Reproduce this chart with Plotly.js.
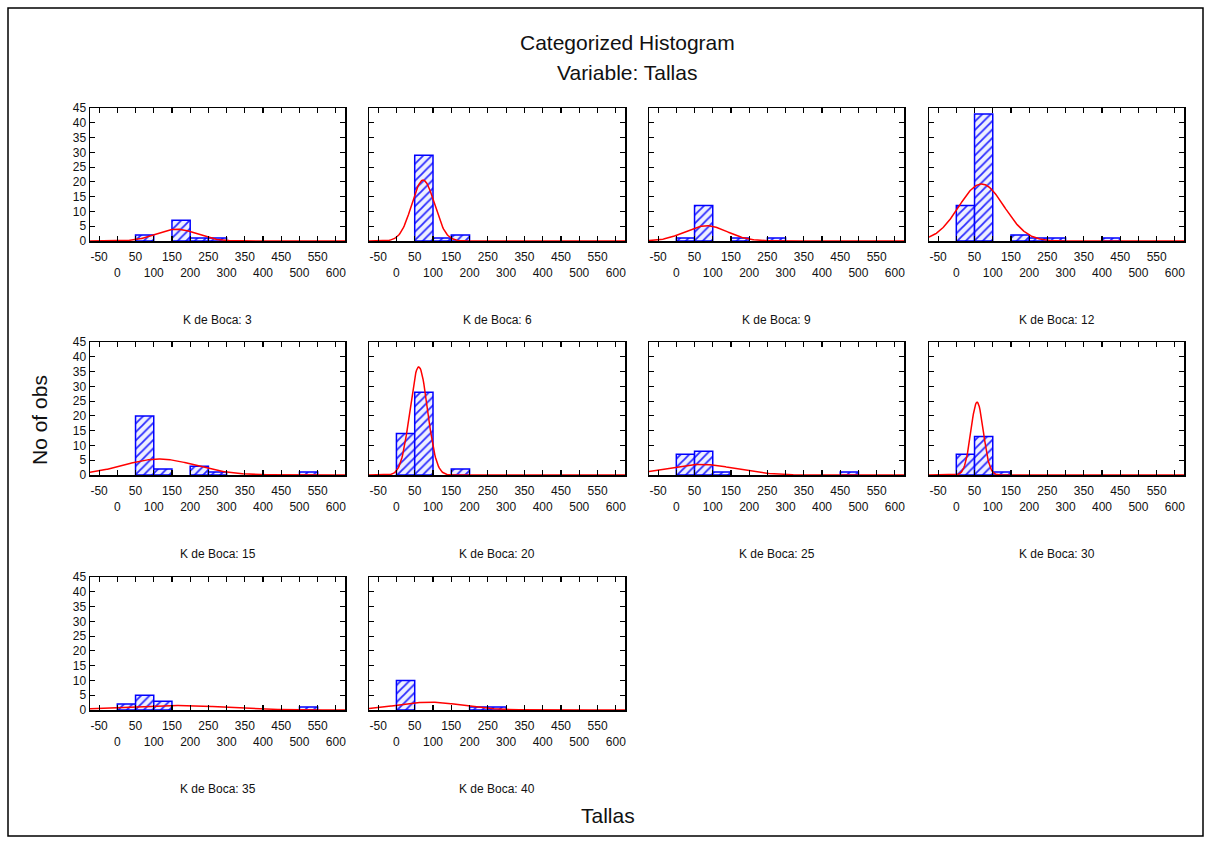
<!DOCTYPE html>
<html><head><meta charset="utf-8">
<script src="https://cdn.plot.ly/plotly-3.0.1.min.js"></script>
<style>html,body{margin:0;padding:0;background:#fff}#chart{width:1211px;height:844px}</style>
</head><body><div id="chart"></div>
<script>
// ---- data ----
const panelLabels = ["K de Boca: 3","K de Boca: 6","K de Boca: 9","K de Boca: 12","K de Boca: 15",
                     "K de Boca: 20","K de Boca: 25","K de Boca: 30","K de Boca: 35","K de Boca: 40"];
const binStarts = [0,50,100,150,200,250,300,350,400,450,500,550];
const countsK3  = [0,2,0,7,1,1,0,0,0,0,0,0];
const countsK6  = [0,29,1,2,0,0,0,0,0,0,0,0];
const countsK9  = [1,12,0,1,0,1,0,0,0,0,0,0];
const countsK12 = [12,43,0,2,1,1,0,0,1,0,0,0];
const countsK15 = [0,20,2,0,3,1,0,0,0,0,1,0];
const countsK20 = [14,28,0,2,0,0,0,0,0,0,0,0];
const countsK25 = [7,8,1,0,0,0,0,0,0,1,0,0];
const countsK30 = [7,13,1,0,0,0,0,0,0,0,0,0];
const countsK35 = [2,5,3,0,0,0,0,0,0,0,1,0];
const countsK40 = [10,0,0,0,1,1,0,0,0,0,0,0];
// fitted normal curve parameters (mean, sd) estimated from the red curves
const fitMean = [163, 73, 82, 69, 115, 61, 68, 57, 150, 90];
const fitSd   = [ 55, 31, 58, 62, 100, 24, 95, 17, 140, 90];
const xTickVals = [-50,0,50,100,150,200,250,300,350,400,450,500,550,600];
const xTickLabels = ["-50","0","50","100","150","200","250","300","350","400","450","500","550","600"];
const yTickVals = [0,5,10,15,20,25,30,35,40,45];
const yTickLabels = ["0","5","10","15","20","25","30","35","40","45"];

const allCounts = [countsK3,countsK6,countsK9,countsK12,countsK15,countsK20,countsK25,countsK30,countsK35,countsK40];

// ---- layout geometry ----
const W = 1211, H = 844;
const colL = [90, 369, 649, 929], colR = [345, 625, 904, 1184];
const rowT = [108, 342, 577], rowB = [241, 475, 710];
const binW = 50;
const FONT = "Liberation Sans, Arial, sans-serif";

const data = [];
const layout = {
  width: W, height: H, margin: {l:0, r:0, t:0, b:0},
  paper_bgcolor: "#fff", plot_bgcolor: "#fff",
  showlegend: false, barmode: "overlay",
  font: {family: FONT, color: "#000"},
  annotations: [], shapes: []
};

const staggered = xTickLabels.map((t, i) => (i % 2 === 0) ? t : "<br>" + t);

allCounts.forEach((counts, i) => {
  const row = Math.floor(i / 4), col = i % 4;
  const n = i + 1;
  const xk = n === 1 ? "x" : "x" + n, yk = n === 1 ? "y" : "y" + n;
  const total = counts.reduce((a, b) => a + b, 0);
  const bx = [], by = [];
  counts.forEach((c, j) => { if (c > 0) { bx.push(binStarts[j] + binW / 2); by.push(c); } });
  data.push({
    type: "bar", x: bx, y: by, width: binW, xaxis: xk, yaxis: yk,
    marker: {color: "#ffffff", line: {color: "#0000ff", width: 1.5},
             pattern: {shape: "/", fgcolor: "#2a2aff", bgcolor: "#eef0ff", size: 6, solidity: 0.3}},
    hoverinfo: "skip"
  });
  const cx = [], cy = [];
  for (let x = -75; x <= 625; x += 2) {
    const z = (x - fitMean[i]) / fitSd[i];
    cx.push(x);
    cy.push(total * binW / (fitSd[i] * Math.sqrt(2 * Math.PI)) * Math.exp(-0.5 * z * z));
  }
  data.push({type: "scatter", mode: "lines", x: cx, y: cy, xaxis: xk, yaxis: yk,
             line: {color: "#ff0000", width: 1.5}, hoverinfo: "skip", cliponaxis: true});

  const axCommon = {
    ticks: "inside", ticklen: 5, tickwidth: 1.2, tickcolor: "#000",
    showline: true, linecolor: "#000", linewidth: 1.5, mirror: "ticks",
    showgrid: false, zeroline: false, fixedrange: true,
    tickfont: {family: FONT, size: 12, color: "#111"}
  };
  layout[n === 1 ? "xaxis" : "xaxis" + n] = Object.assign({}, axCommon, {
    domain: [colL[col] / W, colR[col] / W], range: [-75, 625], anchor: yk,
    tickmode: "array", tickvals: xTickVals, ticktext: staggered, tickangle: 0,
    ticklabelstandoff: 4
  });
  layout[n === 1 ? "yaxis" : "yaxis" + n] = Object.assign({}, axCommon, {
    domain: [1 - rowB[row] / H, 1 - rowT[row] / H], range: [0, 45], anchor: xk,
    tickmode: "array", tickvals: yTickVals, ticktext: yTickLabels,
    showticklabels: col === 0
  });
  layout.annotations.push({
    xref: "paper", yref: "paper", x: (colL[col] + colR[col]) / 2 / W, y: 1 - (rowB[row] + 79) / H,
    xanchor: "center", yanchor: "middle", showarrow: false, text: panelLabels[i],
    font: {family: FONT, size: 12, color: "#111"}
  });
});

layout.annotations.push(
  {xref:"paper", yref:"paper", x: 627/W, y: 1 - 43/H, xanchor:"center", yanchor:"middle", showarrow:false,
   text:"Categorized Histogram", font:{family:FONT, size:21, color:"#111"}},
  {xref:"paper", yref:"paper", x: 627/W, y: 1 - 72/H, xanchor:"center", yanchor:"middle", showarrow:false,
   text:"Variable: Tallas", font:{family:FONT, size:21, color:"#111"}},
  {xref:"paper", yref:"paper", x: 40/W, y: 1 - 420/H, xanchor:"center", yanchor:"middle", showarrow:false,
   text:"No of obs", textangle:-90, font:{family:FONT, size:21, color:"#111"}},
  {xref:"paper", yref:"paper", x: 608/W, y: 1 - 815/H, xanchor:"center", yanchor:"middle", showarrow:false,
   text:"Tallas", font:{family:FONT, size:21, color:"#111"}}
);
layout.shapes.push({type:"rect", xref:"paper", yref:"paper", x0: 8/W, x1: 1203/W, y0: 1 - 836/H, y1: 1 - 8/H,
                    line:{color:"#000", width:1.5}, fillcolor:"rgba(0,0,0,0)"});

Plotly.newPlot("chart", data, layout, {staticPlot: true, displayModeBar: false});
</script></body></html>
